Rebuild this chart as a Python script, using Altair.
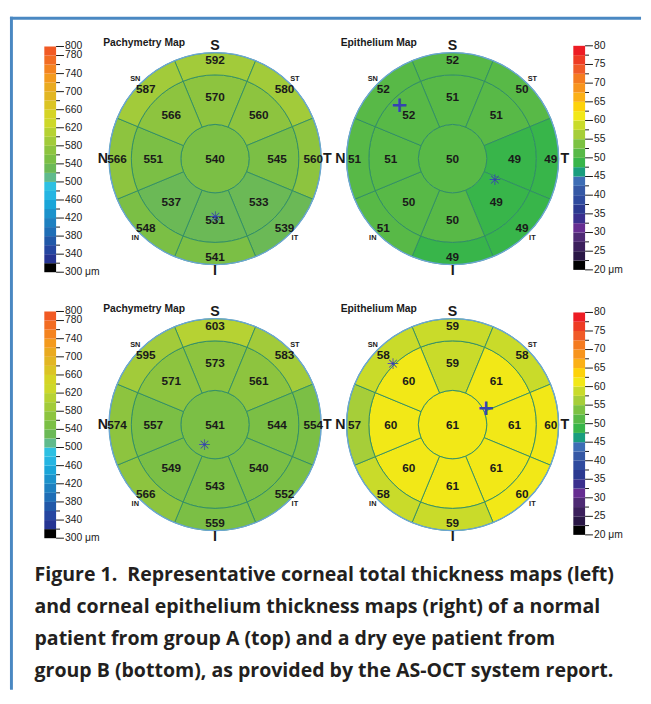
import math
import altair as alt
import pandas as pd

# ---------------- data ----------------
SECTORS = ["S", "ST", "T", "IT", "I", "IN", "N", "SN"]
SECTOR_ANGLE = [0, 45, 90, 135, 180, 225, 270, 315]  # deg, clockwise from superior

ZONES = ["center", "middle", "outer"]
ZONE_INNER = [0.0, 1.0, 2.45]   # mm
ZONE_OUTER = [1.0, 2.45, 3.1]   # mm

# Group A (normal patient)
pachy_a_center = 540
pachy_a_middle = [570, 560, 545, 533, 531, 537, 551, 566]
pachy_a_outer = [592, 580, 560, 539, 541, 548, 566, 587]
epi_a_center = 50
epi_a_middle = [51, 51, 49, 49, 50, 50, 51, 52]
epi_a_outer = [52, 50, 49, 49, 49, 51, 51, 52]

# Group B (dry eye patient)
pachy_b_center = 541
pachy_b_middle = [573, 561, 544, 540, 543, 549, 557, 571]
pachy_b_outer = [603, 583, 554, 552, 559, 566, 574, 595]
epi_b_center = 61
epi_b_middle = [59, 61, 61, 61, 61, 60, 60, 60]
epi_b_outer = [59, 58, 60, 60, 59, 58, 57, 58]

# thinnest / thickest point markers: symbol, radius (mm), angle (deg)
pachy_a_marks = [("✳", 1.72, 180)]
epi_a_marks = [("+", 2.21, 315.5), ("✳", 1.38, 117)]
pachy_b_marks = [("✳", 0.69, 207.6)]
epi_b_marks = [("✳", 2.50, 315.5), ("+", 1.09, 63.4)]

DIR_BIG = ["S", "T", "I", "N"]
DIR_BIG_ANGLE = [0, 90, 180, 270]
DIR_SMALL = ["ST", "IT", "IN", "SN"]
DIR_SMALL_ANGLE = [45, 135, 225, 315]

MAP_TITLES = ["Pachymetry Map", "Epithelium Map"]

PACHY_EDGES = [300, 320, 340, 360, 380, 400, 420, 440, 460, 480, 500, 520, 540,
               560, 580, 600, 620, 640, 660, 680, 700, 720, 740, 760, 780, 800]
PACHY_LABELS = [800, 780, 740, 700, 660, 620, 580, 540, 500, 460, 420, 380, 340, 300]
PACHY_MINOR = [760, 720, 680, 640, 600, 560, 520, 480, 440, 400, 360, 320]
EPI_EDGES = [20, 22.5, 25, 27.5, 30, 32.5, 35, 37.5, 40, 42.5, 45, 47.5, 50,
             52.5, 55, 57.5, 60, 62.5, 65, 67.5, 70, 72.5, 75, 77.5, 80]
EPI_LABELS = [80, 75, 70, 65, 60, 55, 50, 45, 40, 35, 30, 25, 20]
EPI_MINOR = [77.5, 72.5, 67.5, 62.5, 57.5, 52.5, 47.5, 42.5, 37.5, 32.5, 27.5, 22.5]

CAPTION_LINES = [
    "Figure 1.\u00a0 Representative corneal total thickness maps (left)",
    "and corneal epithelium thickness maps (right) of a normal",
    "patient from group A (top) and a dry eye patient from",
    "group B (bottom), as provided by the AS-OCT system report.",
]

# ---------------- styles ----------------
PACHY_COLORS = [  # bottom -> top
    "#000000", "#263492", "#2546A0", "#2158A8", "#1F6EB6", "#1E80C0", "#1C92CB",
    "#1AA5D8", "#25B5E2", "#2DC0E2", "#5FBA8C", "#6BB956", "#7BBF45", "#8DC43F",
    "#A2CB3A", "#B6D233", "#CDD82A", "#D5D425", "#DBC424", "#E2B623", "#E9AA20",
    "#F39A1E", "#F4831F", "#F26C22", "#F15A24"]
EPI_COLORS = [  # bottom -> top
    "#000000", "#291645", "#3B1F5C", "#4E2A74", "#662D91", "#3A2F8E", "#2B3990",
    "#2E4A9E", "#3558A5", "#3D6DB5", "#199D7E", "#38B54A", "#58B947", "#7CC242",
    "#A6CE39", "#C9DB2A", "#F2E817", "#FDD20A", "#FBB016", "#F7941D", "#F47B20",
    "#F05A28", "#EE3B24", "#ED1C24"]

PACHY_FILL = alt.Scale(type="threshold", domain=PACHY_EDGES[1:-1], range=PACHY_COLORS)
EPI_FILL = alt.Scale(type="threshold", domain=EPI_EDGES[1:-1], range=EPI_COLORS)
TH = alt.Scale(domain=[0, 360], range=[0, 2 * math.pi])
RS = alt.Scale(type="linear", domain=[0, 3.1], range=[0, 108], zero=True)
MARK_SIZE = alt.Scale(domain=["✳", "+"], range=[15, 22])

LINE = "#2E8C66"
RIM = "#6BA6D4"
INK = "#1A1A1A"
MARK = "#3543B0"
FONT = "Liberation Sans"
LABEL_R = {"center": 0.0, "middle": 1.81, "outer": 2.87}
LETTER_R = 3.28
SMALL_R = 3.3


def map_layers(cx, cy, center, middle, outer, fill_scale, title, marks):
    rows = [{"t0": 0, "t1": 360, "r0": ZONE_INNER[0], "r1": ZONE_OUTER[0],
             "v": center, "zone": "center", "ang": 0}]
    for zi, vals in ((1, middle), (2, outer)):
        for s, a, v in zip(SECTORS, SECTOR_ANGLE, vals):
            rows.append({"t0": a - 22.5, "t1": a + 22.5, "r0": ZONE_INNER[zi],
                         "r1": ZONE_OUTER[zi], "v": v, "zone": ZONES[zi], "ang": a})
    df = pd.DataFrame(rows)
    df["lr"] = df["zone"].map(LABEL_R)
    df["lab"] = df["v"].astype(str)

    X, Y = alt.value(cx), alt.value(cy)
    arcs = alt.Chart(df).mark_arc(stroke=LINE, strokeWidth=0.9).encode(
        x=X, y=Y,
        theta=alt.Theta("t0:Q", scale=TH, stack=False), theta2="t1:Q",
        radius=alt.Radius("r1:Q", scale=RS, stack=False), radius2="r0:Q",
        fill=alt.Fill("v:Q", scale=fill_scale, legend=None),
    )
    rim_df = pd.DataFrame({"t0": [0], "t1": [360], "r0": [0.0], "r1": [ZONE_OUTER[2]]})
    rim = alt.Chart(rim_df).mark_arc(fillOpacity=0, stroke=RIM, strokeWidth=1.4).encode(
        x=X, y=Y,
        theta=alt.Theta("t0:Q", scale=TH, stack=False), theta2="t1:Q",
        radius=alt.Radius("r1:Q", scale=RS, stack=False), radius2="r0:Q",
    )
    labels = alt.Chart(df).mark_text(font=FONT, fontWeight="bold", fontSize=12,
                                     color=INK, baseline="middle").encode(
        x=X, y=Y,
        theta=alt.Theta("ang:Q", scale=TH, stack=False),
        radius=alt.Radius("lr:Q", scale=RS, stack=False),
        text="lab:N",
    )
    big = pd.DataFrame({"d": DIR_BIG, "ang": DIR_BIG_ANGLE, "r": [LETTER_R] * 4})
    letters = alt.Chart(big).mark_text(font=FONT, fontWeight="bold", fontSize=14.5,
                                       color=INK, baseline="middle").encode(
        x=X, y=Y,
        theta=alt.Theta("ang:Q", scale=TH, stack=False),
        radius=alt.Radius("r:Q", scale=RS, stack=False),
        text="d:N",
    )
    small = pd.DataFrame({"d": DIR_SMALL, "ang": DIR_SMALL_ANGLE, "r": [SMALL_R] * 4})
    sletters = alt.Chart(small).mark_text(font=FONT, fontWeight="bold", fontSize=7.5,
                                          color=INK, baseline="middle").encode(
        x=X, y=Y,
        theta=alt.Theta("ang:Q", scale=TH, stack=False),
        radius=alt.Radius("r:Q", scale=RS, stack=False),
        text="d:N",
    )
    mdf = pd.DataFrame(marks, columns=["sym", "r", "ang"])
    markers = alt.Chart(mdf).mark_text(font="DejaVu Sans", fontWeight="bold",
                                       color=MARK, baseline="middle").encode(
        x=X, y=Y,
        theta=alt.Theta("ang:Q", scale=TH, stack=False),
        radius=alt.Radius("r:Q", scale=RS, stack=False),
        size=alt.Size("sym:N", scale=MARK_SIZE, legend=None),
        text="sym:N",
    )
    tdf = pd.DataFrame({"t": [title]})
    ttl = alt.Chart(tdf).mark_text(font=FONT, fontWeight="bold", fontSize=10.5, color=INK,
                                   align="left", baseline="middle").encode(
        x=alt.value(cx - 114), y=alt.value(cy - 118), text="t:N")
    return [arcs, rim, labels, letters, sletters, markers, ttl]


def cbar_layers(x0, ytop, ybot, edges, fill_scale, labels, minor):
    ys = alt.Scale(domain=[edges[0], edges[-1]], range=[ybot, ytop], zero=False, nice=False)
    bands = pd.DataFrame({"lo": edges[:-1], "hi": edges[1:]})
    bands["mid"] = (bands["lo"] + bands["hi"]) / 2
    bar = alt.Chart(bands).mark_rect().encode(
        x=alt.value(x0), x2=alt.value(x0 + 12),
        y=alt.Y("lo:Q", scale=ys, axis=None), y2="hi:Q",
        fill=alt.Fill("mid:Q", scale=fill_scale, legend=None),
    )
    ldf = pd.DataFrame({"v": labels})
    ldf["lab"] = [str(v) for v in labels]
    ldf.loc[ldf.index[-1], "lab"] = f"{labels[-1]} μm"
    major = alt.Chart(ldf).mark_rule(color=INK, strokeWidth=1).encode(
        x=alt.value(x0 + 12), x2=alt.value(x0 + 20), y=alt.Y("v:Q", scale=ys, axis=None))
    mdf = pd.DataFrame({"v": minor})
    minr = alt.Chart(mdf).mark_rule(color=INK, strokeWidth=1).encode(
        x=alt.value(x0 + 12), x2=alt.value(x0 + 16), y=alt.Y("v:Q", scale=ys, axis=None))
    txt = alt.Chart(ldf).mark_text(font=FONT, fontSize=10.5, color=INK, align="left",
                                   baseline="middle").encode(
        x=alt.value(x0 + 21), y=alt.Y("v:Q", scale=ys, axis=None), text="lab:N")
    return [bar, major, minr, txt]


layers = []
# row A
layers += map_layers(209, 147, pachy_a_center, pachy_a_middle, pachy_a_outer,
                     PACHY_FILL, MAP_TITLES[0], pachy_a_marks)
layers += map_layers(451, 147, epi_a_center, epi_a_middle, epi_a_outer,
                     EPI_FILL, MAP_TITLES[1], epi_a_marks)
layers += cbar_layers(35, 32.7, 262.7, PACHY_EDGES, PACHY_FILL, PACHY_LABELS, PACHY_MINOR)
layers += cbar_layers(574, 32.0, 260.3, EPI_EDGES, EPI_FILL, EPI_LABELS, EPI_MINOR)
# row B
layers += map_layers(209, 418, pachy_b_center, pachy_b_middle, pachy_b_outer,
                     PACHY_FILL, MAP_TITLES[0], pachy_b_marks)
layers += map_layers(451, 418, epi_b_center, epi_b_middle, epi_b_outer,
                     EPI_FILL, MAP_TITLES[1], epi_b_marks)
layers += cbar_layers(35, 302.7, 533.7, PACHY_EDGES, PACHY_FILL, PACHY_LABELS, PACHY_MINOR)
layers += cbar_layers(574, 303.7, 530.3, EPI_EDGES, EPI_FILL, EPI_LABELS, EPI_MINOR)

# frame
one = pd.DataFrame({"a": [0]})
BORDER = "#4A88C2"
layers.append(alt.Chart(one).mark_rule(color=BORDER, strokeWidth=3).encode(
    x=alt.value(0), x2=alt.value(643), y=alt.value(4)))
layers.append(alt.Chart(one).mark_rule(color=BORDER, strokeWidth=3).encode(
    x=alt.value(1.5), y=alt.value(2.5), y2=alt.value(688)))

# caption
cap = pd.DataFrame({"t": ["\n".join(CAPTION_LINES)]})
layers.append(alt.Chart(cap).mark_text(font="Open Sans", fontWeight="bold", fontSize=19.9,
                                       color="#231F20", align="left", baseline="alphabetic",
                                       lineBreak="\n", lineHeight=32.6).encode(
    x=alt.value(25), y=alt.value(577), text="t:N"))

chart = alt.layer(*layers).resolve_scale(
    y="independent", fill="independent", size="independent"
).properties(
    width=635, height=688, padding=0, background="white"
).configure_view(stroke="transparent")

chart.save("out.html", embed_options={"renderer": "svg", "actions": False})
